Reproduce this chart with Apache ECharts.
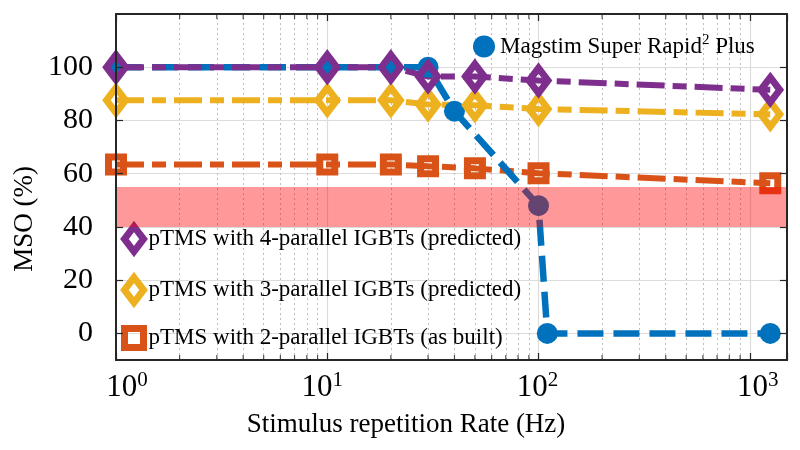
<!DOCTYPE html>
<html><head><meta charset="utf-8">
<script src="https://cdn.jsdelivr.net/npm/echarts@6/dist/echarts.min.js"></script>
<style>html,body{margin:0;padding:0;background:#fff}#c{width:800px;height:450px}</style>
</head><body><div id="c"></div>
<script>
// ---- data ----
const rates4 = [1, 10, 20, 30, 50, 100, 1250];
const mso4 = [100, 100, 100, 96.5, 96.5, 95, 91.5];
const rates3 = [1, 10, 20, 30, 50, 100, 1250];
const mso3 = [87.6, 87.6, 87.6, 86, 85.7, 84.3, 82.3];
const rates2 = [1, 10, 20, 30, 50, 100, 1250];
const mso2 = [63.5, 63.5, 63.5, 62.8, 62, 60.2, 56.4];
const ratesMag = [1, 10, 20, 30, 40, 100, 110, 1250];
const msoMag = [100, 100, 100, 100, 83.5, 48, 0, 0];
const yTicks = [0, 20, 40, 60, 80, 100];
const xMajor = [10, 100, 1000];
const xMinor = [2,3,4,5,6,7,8,9,20,30,40,50,60,70,80,90,200,300,400,500,600,700,800,900];
const bandRange = [40, 55];
const names = {
  p4: 'pTMS with 4-parallel IGBTs (predicted)',
  p3: 'pTMS with 3-parallel IGBTs (predicted)',
  p2: 'pTMS with 2-parallel IGBTs (as built)',
  mag: 'Magstim Super Rapid2 Plus'
};

const FONT = 'Liberation Serif';
const C = { blue: '#0072BD', orange: '#D95319', yellow: '#EDB120', purple: '#7E2F8E' };
const zip = (xs, ys) => xs.map((x, i) => [x, ys[i]]);
const dashDot = [28, 8, 14, 8];
// per-decade label nudges (px) to mimic reference placement
const labelShift = { 0: 11, 1: -5, 2: -1, 3: 8 };

const chart = echarts.init(document.getElementById('c'), null, { renderer: 'canvas' });

const xBase = {
  type: 'log', logBase: 10, min: 1, max: 1500, z: 20,
  axisLine: { show: true, onZero: false, lineStyle: { color: '#262626', width: 2 } },
  axisTick: { show: true, inside: true, length: 7, lineStyle: { color: '#262626', width: 1.2 } },
  splitLine: { show: false }, minorTick: { show: false }
};
const yBase = {
  type: 'value', min: -10, max: 120, interval: 10, z: 20,
  axisLine: { show: true, onZero: false, lineStyle: { color: '#262626', width: 2 } },
  axisTick: { show: true, inside: true, length: 7, customValues: yTicks, lineStyle: { color: '#262626', width: 1.2 } },
  splitLine: { show: false }
};

const gridLines = []
  .concat(yTicks.map(v => ({ yAxis: v, lineStyle: { color: '#dcdcdc', width: 1.2, type: 'solid' } })))
  .concat(xMajor.map(v => ({ xAxis: v, lineStyle: { color: '#dcdcdc', width: 1.2, type: 'solid' } })))
  .concat(xMinor.map(v => ({ xAxis: v, lineStyle: { color: '#bdbdbd', width: 1, type: [2, 3] } })));

function pSeries(name, xs, ys, color, symbol, size, bw) {
  return {
    name, type: 'line', data: zip(xs, ys), z: 2,
    symbol, symbolSize: size, showAllSymbol: true,
    lineStyle: { color, width: 6, type: dashDot, cap: 'butt' },
    itemStyle: { color: 'rgba(255,255,255,0)', borderColor: color, borderWidth: bw },
    emphasis: { disabled: true }
  };
}

function xLabel(v) {
  const n = Math.log10(v); const r = Math.round(n);
  if (Math.abs(n - r) > 1e-6) return '';
  return '{b' + r + '|10}{s' + r + '|' + r + '}';
}
const xRich = {};
Object.keys(labelShift).forEach(r => {
  const s = labelShift[r];
  xRich['b' + r] = { fontSize: 31, fontFamily: FONT, color: '#000', padding: [0, 0, 0, s > 0 ? 2 * s : 0] };
  xRich['s' + r] = { fontSize: 21, fontFamily: FONT, color: '#000', padding: [0, s < 0 ? -2 * s : 0, 14, 0] };
});

const option = {
  animation: false,
  backgroundColor: '#fff',
  grid: { left: 116, right: 13, top: 14, bottom: 90, containLabel: false },
  xAxis: [
    Object.assign({}, xBase, {
      position: 'bottom',
      axisLabel: { show: true, margin: 10, color: '#000', formatter: xLabel, rich: xRich }
    }),
    Object.assign({}, xBase, { position: 'top', axisLabel: { show: false } })
  ],
  yAxis: [
    Object.assign({}, yBase, {
      position: 'left',
      axisLabel: {
        show: true, margin: 23, customValues: yTicks, fontSize: 30, fontFamily: FONT, color: '#000',
        formatter: v => (yTicks.indexOf(v) >= 0 ? String(v) : '')
      }
    }),
    Object.assign({}, yBase, { position: 'right', axisLabel: { show: false } })
  ],
  legend: [
    {
      orient: 'vertical', left: 116, top: 218, itemGap: 19, itemWidth: 19, itemHeight: 25,
      textStyle: { fontFamily: FONT, fontSize: 23, color: '#000' },
      selectedMode: false,
      data: [
        { name: names.p4, icon: 'diamond', itemStyle: { color: 'rgba(255,255,255,0)', borderColor: C.purple, borderWidth: 7 } },
        { name: names.p3, icon: 'diamond', itemStyle: { color: 'rgba(255,255,255,0)', borderColor: C.yellow, borderWidth: 7 } },
        { name: names.p2, icon: 'path://M0,0h10v10h-10z', itemStyle: { color: 'rgba(255,255,255,0)', borderColor: C.orange, borderWidth: 7 } }
      ]
    },
    {
      orient: 'horizontal', left: 468, top: 28, itemWidth: 22, itemHeight: 22,
      textStyle: { fontFamily: FONT, fontSize: 23, color: '#000', rich: { s: { fontSize: 15, fontFamily: FONT, color: '#000', padding: [0, 0, 12, 0] } } },
      selectedMode: false,
      formatter: n => n === names.mag ? 'Magstim Super Rapid{s|2} Plus' : n,
      data: [ { name: names.mag, icon: 'circle', itemStyle: { color: C.blue, borderWidth: 0 } } ]
    }
  ],
  graphic: [
    { type: 'text', x: 406, y: 425, z: 50, style: { text: 'Stimulus repetition Rate (Hz)', font: '27px "Liberation Serif"', fill: '#000', textAlign: 'center', textVerticalAlign: 'middle' } },
    { type: 'text', x: 25, y: 219, rotation: Math.PI / 2, z: 50, style: { text: 'MSO (%)', font: '27px "Liberation Serif"', fill: '#000', textAlign: 'center', textVerticalAlign: 'middle' } }
  ],
  series: [
    {
      name: '_grid', type: 'scatter', data: [[1, -10]], symbolSize: 0, silent: true, z: 1,
      markLine: { silent: true, z: 1, symbol: ['none', 'none'], label: { show: false }, animation: false, data: gridLines }
    },
    pSeries(names.p2, rates2, mso2, C.orange, 'rect', 15, 7),
    {
      name: names.mag, type: 'line', data: zip(ratesMag, msoMag), z: 2,
      symbol: 'circle', symbolSize: 21, showAllSymbol: true,
      lineStyle: { color: C.blue, width: 6.5, type: [26, 10], cap: 'butt' },
      itemStyle: { color: C.blue, borderWidth: 0 },
      emphasis: { disabled: true }
    },
    pSeries(names.p3, rates3, mso3, C.yellow, 'diamond', [19, 25], 7),
    pSeries(names.p4, rates4, mso4, C.purple, 'diamond', [19, 25], 7),
    {
      name: '_minorB', type: 'scatter', silent: true, z: 21, symbol: 'rect', symbolSize: [1.2, 5], symbolOffset: [0, -2.5],
      itemStyle: { color: '#262626' }, data: xMinor.map(v => [v, -10])
    },
    {
      name: '_minorT', type: 'scatter', silent: true, z: 21, symbol: 'rect', symbolSize: [1.2, 5], symbolOffset: [0, 2.5],
      itemStyle: { color: '#262626' }, data: xMinor.map(v => [v, 120])
    },
    {
      name: '_band', type: 'scatter', data: [[1, -10]], symbolSize: 0, silent: true, z: 10,
      markArea: { silent: true, z: 10, itemStyle: { color: 'rgba(255,0,0,0.4)' }, data: [[{ yAxis: bandRange[0] }, { yAxis: bandRange[1] }]] }
    }
  ]
};
chart.setOption(option);
</script></body></html>
